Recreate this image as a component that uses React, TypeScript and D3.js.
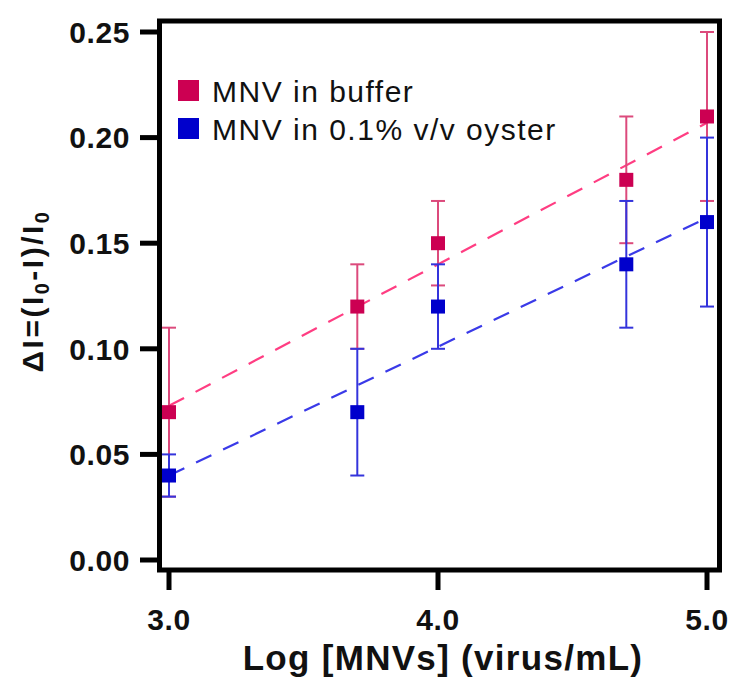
import React from "react";
import * as d3 from "d3";

const xValues = [3.0, 3.7, 4.0, 4.7, 5.0];
const bufferValues = [0.07, 0.12, 0.15, 0.18, 0.21];
const bufferErrors = [0.04, 0.02, 0.02, 0.03, 0.04];
const oysterValues = [0.04, 0.07, 0.12, 0.14, 0.16];
const oysterErrors = [0.01, 0.03, 0.02, 0.03, 0.04];
const bufferFitX = [3.0, 5.0];
const bufferFitY = [0.073, 0.207];
const oysterFitX = [3.0, 5.0];
const oysterFitY = [0.040, 0.162];
const xTicks = [3.0, 4.0, 5.0];
const yTicks = [0, 0.05, 0.1, 0.15, 0.2, 0.25];
const legendLabels = ["MNV in buffer", "MNV in 0.1% v/v oyster"];

const W = 731;
const H = 677;
const FONT = "'Liberation Sans', Arial, Helvetica, sans-serif";

export default function App() {
  const x = d3.scaleLinear().domain([3, 5]).range([169, 707]);
  const y = d3.scaleLinear().domain([0, 0.25]).range([560, 32]);
  const frame = { left: 159.5, right: 719.5, top: 21, bottom: 570 };

  const line = d3
    .line<[number, number]>()
    .x((d) => x(d[0]))
    .y((d) => y(d[1]));

  const series = [
    {
      values: bufferValues,
      errors: bufferErrors,
      fitX: bufferFitX,
      fitY: bufferFitY,
      marker: "#cc0052",
      err: "#dc4a7c",
      fit: "#ff3d82",
    },
    {
      values: oysterValues,
      errors: oysterErrors,
      fitX: oysterFitX,
      fitY: oysterFitY,
      marker: "#0000cc",
      err: "#3434dc",
      fit: "#3a3ae8",
    },
  ];

  const ms = 14;
  const cap = 7;

  return (
    <svg
      width={W}
      height={H}
      style={{ position: "absolute", left: 0, top: 0, background: "#fff" }}
    >
      {series.map((s, i) => (
        <path
          key={"fit" + i}
          d={line(s.fitX.map((v, j) => [v, s.fitY[j]] as [number, number])) || ""}
          fill="none"
          stroke={s.fit}
          strokeWidth={2.2}
          strokeDasharray="17,13"
        />
      ))}
      {series.map((s, i) => (
        <g key={"s" + i}>
          {xValues.map((xv, j) => {
            const cx = x(xv);
            const lo = y(s.values[j] - s.errors[j]);
            const hi = y(s.values[j] + s.errors[j]);
            return (
              <g key={j} stroke={s.err} strokeWidth={2}>
                <line x1={cx} x2={cx} y1={lo} y2={hi} />
                <line x1={cx - cap} x2={cx + cap} y1={lo} y2={lo} />
                <line x1={cx - cap} x2={cx + cap} y1={hi} y2={hi} />
              </g>
            );
          })}
          {xValues.map((xv, j) => (
            <rect
              key={"m" + j}
              x={x(xv) - ms / 2}
              y={y(s.values[j]) - ms / 2}
              width={ms}
              height={ms}
              fill={s.marker}
            />
          ))}
        </g>
      ))}
      <rect
        x={frame.left}
        y={frame.top}
        width={frame.right - frame.left}
        height={frame.bottom - frame.top}
        fill="none"
        stroke="#000"
        strokeWidth={5}
      />
      {yTicks.map((t) => (
        <g key={"yt" + t}>
          <line x1={140} x2={frame.left} y1={y(t)} y2={y(t)} stroke="#000" strokeWidth={5} />
          <text
            x={130}
            y={y(t)}
            dy="0.36em"
            textAnchor="end"
            fontFamily={FONT}
            fontWeight="bold"
            fontSize={30}
            letterSpacing={0.6}
            fill="#111"
          >
            {t.toFixed(2)}
          </text>
        </g>
      ))}
      {xTicks.map((t) => (
        <g key={"xt" + t}>
          <line x1={x(t)} x2={x(t)} y1={frame.bottom} y2={590} stroke="#000" strokeWidth={5} />
          <text
            x={x(t)}
            y={630}
            textAnchor="middle"
            fontFamily={FONT}
            fontWeight="bold"
            fontSize={30}
            letterSpacing={0.6}
            fill="#111"
          >
            {t.toFixed(1)}
          </text>
        </g>
      ))}
      <text
        x={443}
        y={670}
        textAnchor="middle"
        fontFamily={FONT}
        fontWeight="bold"
        fontSize={35}
        letterSpacing={1.3}
        fill="#111"
      >
        Log [MNVs] (virus/mL)
      </text>
      <text
        transform="translate(43,291) rotate(-90)"
        textAnchor="middle"
        fontFamily={FONT}
        fontWeight="bold"
        fontSize={30}
        letterSpacing={2.5}
        fill="#111"
      >
        ΔI=(I<tspan fontSize={20} dy={6}>0</tspan>
        <tspan dy={-6}>-I)/I</tspan>
        <tspan fontSize={20} dy={6}>0</tspan>
      </text>
      {legendLabels.map((lab, i) => (
        <g key={"lg" + i}>
          <rect x={178} y={80 + i * 38} width={21} height={21} fill={series[i].marker} />
          <text
            x={212}
            y={102 + i * 38}
            fontFamily={FONT}
            fontSize={30}
            letterSpacing={1.5}
            fill="#111"
          >
            {lab}
          </text>
        </g>
      ))}
    </svg>
  );
}
